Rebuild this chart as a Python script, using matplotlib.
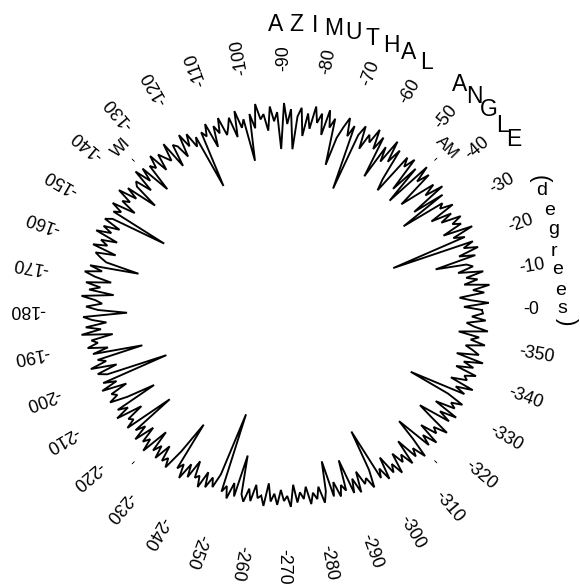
import numpy as np
import matplotlib
matplotlib.use("Agg")
import matplotlib.pyplot as plt

plt.rcParams["font.family"] = ["Liberation Sans", "DejaVu Sans"]

# Azimuthal response, one sample per degree starting at 0 (east), counter-clockwise.
step_deg = 1.0
amplitude = [
    198, 180, 205, 187, 176, 201, 190, 207, 182, 196,
    185, 203, 178, 194, 188, 157, 199, 183, 204, 190,
    201, 117, 195, 184, 206, 176, 197, 189, 200, 180,
    193, 172, 199, 186, 191, 146, 196, 163, 201, 182,
    195, 175, 158, 198, 185, 202, 152, 193, 163, 199,
    187, 196, 152, 164, 197, 181, 203, 177, 192, 156,
    199, 184, 204, 188, 195, 178, 201, 190, 131, 197,
    185, 203, 192, 180, 151, 198, 188, 205, 179, 200,
    190, 206, 183, 198, 175, 203, 194, 161, 201, 186,
    207, 161, 198, 189, 204, 180, 197, 192, 208, 184,
    199, 152, 195, 187, 205, 179, 200, 191, 184, 203,
    188, 197, 176, 202, 190, 196, 138, 194, 185, 201,
    189, 204, 181, 195, 199, 176, 205, 187, 193, 200,
    183, 204, 191, 197, 168, 200, 186, 203, 179, 196,
    192, 166, 198, 185, 204, 188, 195, 178, 202, 190,
    197, 137, 194, 201, 183, 199, 189, 204, 180, 196,
    188, 202, 177, 197, 191, 184, 150, 199, 186, 203,
    192, 175, 200, 185, 196, 171, 203, 189, 182, 198,
    186, 157, 201, 192, 178, 199, 184, 204, 173, 195,
    189, 200, 180, 196, 146, 193, 185, 202, 176, 197,
    188, 126, 195, 182, 199, 174, 192, 187, 197, 179,
    150, 194, 184, 199, 172, 190, 186, 196, 145, 191,
    181, 197, 176, 193, 186, 199, 170, 192, 183, 196,
    178, 194, 188, 197, 175, 140, 191, 184, 198, 180,
    193, 173, 190, 186, 197, 179, 194, 182, 191, 176,
    111, 192, 185, 197, 180, 193, 150, 189, 196, 182,
    194, 177, 190, 187, 197, 174, 192, 184, 195, 180,
    191, 186, 197, 175, 193, 183, 190, 178, 196, 185,
    192, 180, 197, 186, 156, 193, 179, 195, 184, 191,
    160, 196, 182, 198, 177, 192, 187, 199, 181, 139,
    194, 185, 199, 176, 196, 188, 201, 180, 193, 186,
    200, 174, 197, 189, 203, 183, 160, 198, 187, 202,
    179, 196, 190, 204, 182, 166, 199, 186, 203, 177,
    197, 191, 202, 184, 141, 199, 188, 205, 180, 196,
    192, 203, 181, 198, 187, 206, 178, 200, 193, 185,
    204, 189, 197, 176, 205, 191, 183, 202, 188, 199,
]

tick_angles = list(range(0, 360, 10))
tick_labels = [f"-{a}" for a in tick_angles]

season_angles = [45, 135, 225, 315]
season_labels = ["AM", "WI", "", ""]

title_letters = list("AZIMUTHAL") + list("ANGLE")
title_angles = [91.6, 87.6, 83.7, 80.0, 75.9, 71.9, 67.9, 64.1, 60.0,
                52.2, 48.4, 44.4, 40.3, 36.6]
unit_letters = list("degrees")
unit_angles = [24.8, 20.6, 16.6, 12.2, 8.5, 4.1, 0.4]
unit_radii = [284, 284, 281, 276, 277, 277, 278]

R_MAX = 250.0
CX, CY = 284, 310  # circle centre in pixels (from top-left)

fig = plt.figure(figsize=(5.80, 5.84), dpi=100)
ax = fig.add_axes([(CX - 250) / 580, (584 - CY - 250) / 584, 500 / 580, 500 / 584],
                  projection="polar")
ax.set_theta_zero_location("E")
ax.set_theta_direction(1)
ax.set_ylim(0, R_MAX)
ax.set_axis_off()

theta = np.deg2rad(np.arange(len(amplitude)) * step_deg)
theta = np.append(theta, 2 * np.pi)
r = np.append(np.asarray(amplitude, float), amplitude[0])
ax.plot(theta, r, color="black", lw=1.35, solid_joinstyle="miter")

# angle tick labels, written radially outward
for a, lab in zip(tick_angles, tick_labels):
    ax.text(np.deg2rad(a), 239, lab, rotation=a, rotation_mode="anchor",
            ha="left", va="center", fontsize=12.8, clip_on=False)

# seasonal markers
for a, lab in zip(season_angles, season_labels):
    ax.text(np.deg2rad(a), 214, "-", rotation=a, rotation_mode="anchor",
            ha="center", va="center", fontsize=11, clip_on=False)
    if lab:
        ax.text(np.deg2rad(a), 230, lab, rotation=a - 90, rotation_mode="anchor",
                ha="center", va="center", fontsize=12, clip_on=False)

# curved axis title
for ch, a in zip(title_letters, title_angles):
    ax.text(np.deg2rad(a), 286, ch, ha="center", va="center",
            fontsize=16.5, clip_on=False)

for ch, a, rr in zip(unit_letters, unit_angles, unit_radii):
    ax.text(np.deg2rad(a), rr, ch, ha="center", va="center",
            fontsize=14, clip_on=False)
ax.text(np.deg2rad(27.2), 287, "(", rotation=-90, ha="center", va="center",
        fontsize=16.5, clip_on=False)
ax.text(np.deg2rad(-2.3), 283, ")", rotation=-90, ha="center", va="center",
        fontsize=16.5, clip_on=False)

fig.savefig("out.png", dpi=100, facecolor="white")
